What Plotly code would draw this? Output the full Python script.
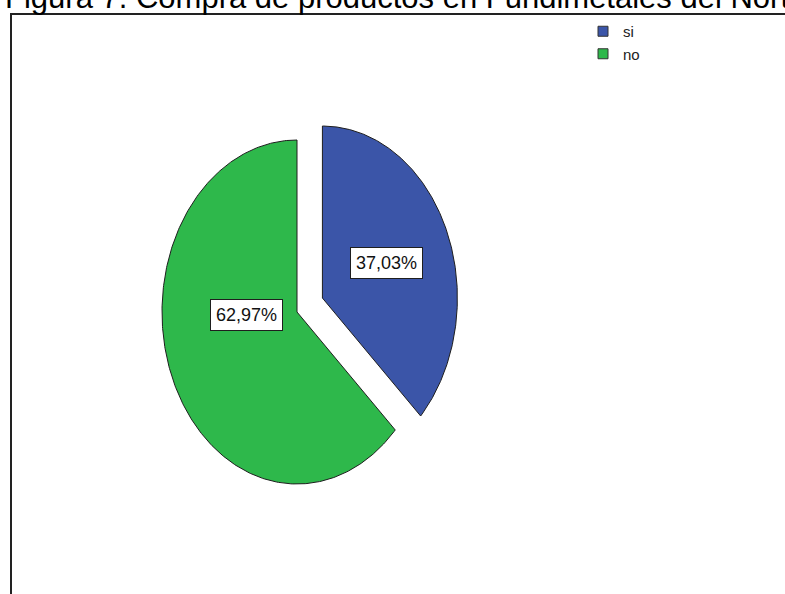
import numpy as np
import plotly.graph_objects as go

# ---- data ----
categories = ["si", "no"]
values = [37.03, 62.97]
colors = ["#3b55a8", "#2eb84b"]
explode = [0.205, 0.0]

title_text = "Figura 7. Compra de productos en Fundimetales del Norte"

# ---- geometry / style constants (pixel-like axis) ----
W, H = 785, 594
CX, CY = 297.0, 312.0   # pie centre
RX, RY = 135.0, 172.0   # ellipse radii (stretched chart)
EDGE = "#1e1e1e"
# label placement (angle from 12 o'clock clockwise in degrees, radius fraction)
label_place = [(66.65, 0.515), (267.0, 0.374)]

fig = go.Figure()

total = sum(values)
start = 0.0
for cat, val, col, ex, (la, lr) in zip(categories, values, colors, explode, label_place):
    span = 360.0 * val / total
    end = start + span
    mid = np.radians(start + span / 2)
    ox = CX + ex * RX * np.sin(mid)
    oy = CY - ex * RY * np.cos(mid)
    th = np.radians(np.linspace(start, end, 300))
    xs = np.concatenate([[ox], ox + RX * np.sin(th), [ox]])
    ys = np.concatenate([[oy], oy - RY * np.cos(th), [oy]])
    fig.add_trace(go.Scatter(
        x=xs, y=ys, mode="lines", fill="toself", fillcolor=col,
        line=dict(color=EDGE, width=1), hoverinfo="skip", showlegend=False,
    ))
    lra = np.radians(la)
    fig.add_annotation(
        x=ox + lr * RX * np.sin(lra), y=oy - lr * RY * np.cos(lra),
        xref="x", yref="y", showarrow=False,
        text=f"{val:.2f}".replace(".", ",") + "%",
        font=dict(family="Liberation Sans, Arial, sans-serif", size=18, color="#111"),
        bgcolor="white", bordercolor=EDGE, borderwidth=1, borderpad=5,
    )
    start = end

# legend-only traces
for cat, col in zip(categories, colors):
    fig.add_trace(go.Scatter(
        x=[None], y=[None], mode="markers", name=cat,
        marker=dict(symbol="square", size=10, color=col, line=dict(color="#333", width=1)),
    ))

# frame (left and top edges visible)
fig.add_shape(type="rect", xref="paper", yref="paper",
              x0=11 / W, x1=1.2, y0=-0.2, y1=1 - 14 / H,
              line=dict(color="#222", width=2), fillcolor="rgba(0,0,0,0)", layer="below")

# title (cropped at top as in reference)
fig.add_annotation(
    x=3 / W, y=1 + 2 / H, xref="paper", yref="paper", xanchor="left", yanchor="middle",
    showarrow=False, text=title_text,
    font=dict(family="Liberation Sans, Arial, sans-serif", size=31, color="black"),
)

fig.update_layout(
    width=W, height=H,
    margin=dict(l=0, r=0, t=0, b=0),
    paper_bgcolor="white", plot_bgcolor="white",
    xaxis=dict(range=[0, W], visible=False, fixedrange=True),
    yaxis=dict(range=[H, 0], visible=False, fixedrange=True),
    showlegend=True,
    legend=dict(
        x=583 / W, y=1 - 15 / H, xanchor="left", yanchor="top",
        font=dict(family="Liberation Sans, Arial, sans-serif", size=15, color="#222"),
        bgcolor="rgba(0,0,0,0)", itemwidth=30, tracegroupgap=0,
    ),
)

fig.write_html("out.html")
